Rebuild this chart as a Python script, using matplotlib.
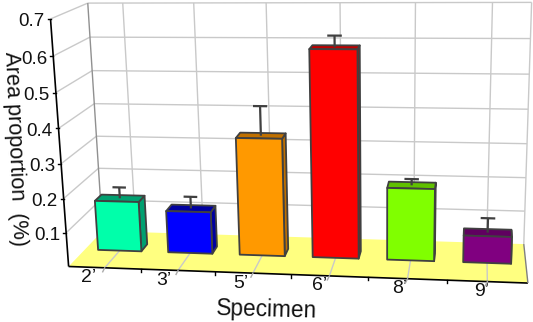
import numpy as np
import matplotlib
matplotlib.use("Agg")
import matplotlib.pyplot as plt
from matplotlib.patches import Polygon

plt.rcParams['font.family'] = ['Liberation Sans', 'DejaVu Sans']

specimens = ["2’", "3’", "5’", "6’", "8’", "9’"]
area = [0.150, 0.125, 0.345, 0.597, 0.210, 0.078]
errors = [0.033, 0.035, 0.085, 0.032, 0.018, 0.042]
face_colors = ["#00ffaa", "#0000ff", "#ff9900", "#ff0000", "#80ff00", "#800080"]
side_colors = ["#00a070", "#0000a0", "#c07000", "#c00000", "#60c000", "#600060"]
yticks = [0.1, 0.2, 0.3, 0.4, 0.5, 0.6, 0.7]

# camera calibration: (x, value, depth) -> pixel
world = np.array([(0.5,0,0),(6.5,0,0),(0.5,.7,0),(0.5,0,1),(6.5,0,1),(0.5,.7,1),(6.5,.7,1),
                  (1,0,0),(6,0,0),(1,.7,1),(6,.7,1)], float)
pix = np.array([(69,265),(528,284),(49,19),(101,233),(524,242),(89,3),(531,2),
                (106,267),(487,283),(123,3),(493,3)], float)
A = []
for (X, Y, Z), (u, v) in zip(world, pix):
    A.append([X, Y, Z, 1, 0, 0, 0, 0, -u*X, -u*Y, -u*Z, -u])
    A.append([0, 0, 0, 0, X, Y, Z, 1, -v*X, -v*Y, -v*Z, -v])
P = np.linalg.svd(np.array(A))[2][-1].reshape(3, 4)

def proj(x, y, z):
    h = P @ np.array([x, y, z, 1.0])
    return (h[0]/h[2], h[1]/h[2])

fig = plt.figure(figsize=(5.33, 3.22), dpi=100)
ax = fig.add_axes([0, 0, 1, 1])
ax.set_xlim(0, 533); ax.set_ylim(322, 0); ax.axis('off')

GRID = "#c9c9c9"; EDGE = "#404040"
X0, X1, YT = 0.5, 6.5, 0.7

def line(a, b, zorder=1, **k):
    pa, pb = proj(*a), proj(*b)
    ax.plot([pa[0], pb[0]], [pa[1], pb[1]], solid_capstyle='butt', zorder=zorder, **k)

def poly(pts, fc, ec=EDGE, lw=1.3, zorder=3):
    ax.add_patch(Polygon([proj(*p) for p in pts], closed=True, fc=fc, ec=ec, lw=lw,
                         joinstyle='round', zorder=zorder))

# floor
poly([(X0,0,0),(X1,0,0),(X1,0,1),(X0,0,1)], "#ffff80", ec="none", lw=0, zorder=0.5)

# grid
g = dict(color=GRID, lw=1.0)
for t in yticks:
    line((X0,t,1),(X1,t,1), **g)
    line((X0,t,0),(X0,t,1), **g)
line((X1,0,1),(X1,YT,1), **g)
line((X0,0,1),(X0,YT,1), color="#909090", lw=1.0)
for i in range(len(specimens)):
    line((i+1,0,1),(i+1,YT,1), **g)
    line((i+1,0,0),(i+1,0,1), **g)

# bars
w, z0, z1 = 0.31, 0.46, 0.66
for i, (v, e) in enumerate(zip(area, errors)):
    c = i + 1
    l, r = c - w, c + w
    zm = 0.5*(z0+z1)
    base = 3 + i*0.1
    poly([(r,0,z0),(r,0,z1),(r,v,z1),(r,v,z0)], side_colors[i], zorder=base)
    poly([(l,v,z0),(r,v,z0),(r,v,z1),(l,v,z1)], side_colors[i], zorder=base)
    poly([(l,0,z0),(r,0,z0),(r,v,z0),(l,v,z0)], face_colors[i], zorder=base)
    line((c,v,zm),(c,v+e,zm), color=EDGE, lw=1.6, zorder=base+0.05)
    pts = [proj(c-0.08,v+e,zm), proj(c+0.08,v+e,zm)]
    ax.plot(*zip(*pts), color=EDGE, lw=1.6, zorder=base+0.05)

# axes
line((X0,0,0),(X0,YT,0), color="black", lw=1.2, zorder=6)
line((X0,0,0),(X1,0,0), color="black", lw=1.2, zorder=6)
line((X1,0,0),(X1,0,1), color="#808080", lw=1.0, zorder=6)
for t in yticks:
    p = proj(X0,t,0)
    ax.plot([p[0]-3, p[0]], [p[1], p[1]], color="black", lw=1, zorder=6)
    ax.text(p[0]-6, p[1]+3, f"{t:.1f}", ha='right', va='center', fontsize=13.5, color="#111111")
for i, s in enumerate(specimens):
    c = i + 1
    p = proj(c,0,0)
    ax.plot([p[0], p[0]-2], [p[1], p[1]+4], color="#aaaaaa", lw=1, zorder=6)
    ax.text(p[0]-16+2*i, p[1]+10, s, ha='center', va='center', fontsize=14, color="#111111")
    if i < 5:
        q = proj(c+0.5,0,0)
        ax.plot([q[0], q[0]], [q[1], q[1]+3], color="black", lw=1, zorder=6)

ax.text(15, 149, "Area proportion  (%)", rotation=-87.5, ha='center', va='center', fontsize=15.6,
        rotation_mode='anchor', color="#111111")
ax.text(267, 310, "Specimen", rotation=-1.5, ha='center', va='center', fontsize=16.3,
        rotation_mode='anchor', color="#111111")

fig.savefig("out.png", dpi=100)
